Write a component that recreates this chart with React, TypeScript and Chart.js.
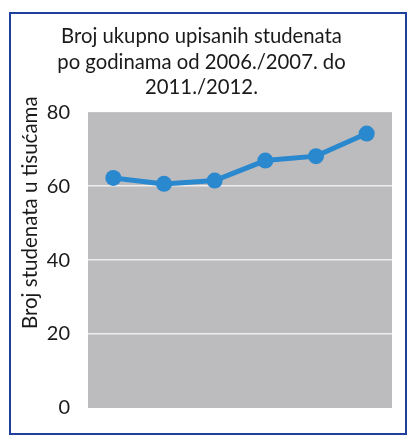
import React, { useEffect, useRef } from "react";
import { Chart, registerables } from "chart.js";

Chart.register(...registerables);

const categories = ["2006./2007.", "2007./2008.", "2008./2009.", "2009./2010.", "2010./2011.", "2011./2012."];
const students = [62.2, 60.6, 61.5, 66.9, 68.1, 74.2];
const yTicks = [0, 20, 40, 60, 80];
const titleLines = ["Broj ukupno upisanih studenata", "po godinama od 2006./2007. do", "2011./2012."];
const yTitle = "Broj studenata u tisućama";

const FONT = "Lato, 'Open Sans', sans-serif";

export default function App() {
  const ref = useRef<HTMLCanvasElement | null>(null);
  useEffect(() => {
    if (!ref.current) return;
    const bgPlugin = {
      id: "plotBg",
      beforeDraw(chart: any) {
        const { ctx, chartArea } = chart;
        ctx.save();
        ctx.fillStyle = "#bcbcbf";
        ctx.fillRect(chartArea.left, chartArea.top, chartArea.right - chartArea.left, chartArea.bottom - chartArea.top);
        ctx.restore();
      },
    };
    const yTitlePlugin = {
      id: "yTitleCustom",
      afterDraw(chart: any) {
        const { ctx, chartArea } = chart;
        ctx.save();
        ctx.translate(chartArea.left - 58, chartArea.top + (chartArea.bottom - chartArea.top) * 0.34);
        ctx.rotate(-Math.PI / 2);
        ctx.font = `20.5px ${FONT}`;
        ctx.fillStyle = "#1a1a1a";
        ctx.textAlign = "center";
        ctx.textBaseline = "middle";
        ctx.fillText(yTitle, 0, 0);
        ctx.restore();
      },
    };
    const chart = new Chart(ref.current, {
      type: "line",
      data: {
        labels: categories,
        datasets: [
          {
            data: students,
            borderColor: "#2a88cf",
            backgroundColor: "#2a88cf",
            borderWidth: 5,
            pointRadius: 8,
            pointHoverRadius: 8,
            pointBorderWidth: 0,
            tension: 0,
          },
        ],
      },
      options: {
        animation: false,
        responsive: true,
        maintainAspectRatio: false,
        layout: { padding: { left: 0, right: 13, top: 0, bottom: 17 } },
        plugins: {
          legend: { display: false },
          tooltip: { enabled: false },
          title: {
            display: true,
            text: titleLines,
            color: "#1a1a1a",
            font: { family: FONT, size: 20.3, weight: "normal", lineHeight: 1.25 },
            padding: { top: 10, bottom: 12 },
          },
        },
        scales: {
          x: {
            offset: true,
            grid: { display: false },
            border: { display: false },
            ticks: { display: false },
          },
          y: {
            min: 0,
            max: 80,
            afterBuildTicks(scale: any) {
              scale.ticks = yTicks.map((v) => ({ value: v }));
            },
            afterFit(scale: any) {
              scale.width = 77;
              scale.paddingTop = 0;
              scale.paddingBottom = 0;
            },
            grid: {
              color: (c: any) => (c.tick && (c.tick.value === 0 || c.tick.value === 80) ? "rgba(0,0,0,0)" : "#eeeeee"),
              lineWidth: 1.5,
              drawTicks: false,
            },
            border: { display: false },
            ticks: {
              color: "#1a1a1a",
              font: { family: FONT, size: 20, lineHeight: 1 },
              padding: 18,
            },
          },
        },
      },
      plugins: [bgPlugin, yTitlePlugin],
    });
    return () => chart.destroy();
  }, []);
  return (
    <div
      style={{
        position: "absolute",
        left: 9,
        top: 12,
        width: 394,
        height: 419,
        border: "2px solid #1f3f9f",
        background: "#fff",
      }}
    >
      <canvas ref={ref} />
    </div>
  );
}
